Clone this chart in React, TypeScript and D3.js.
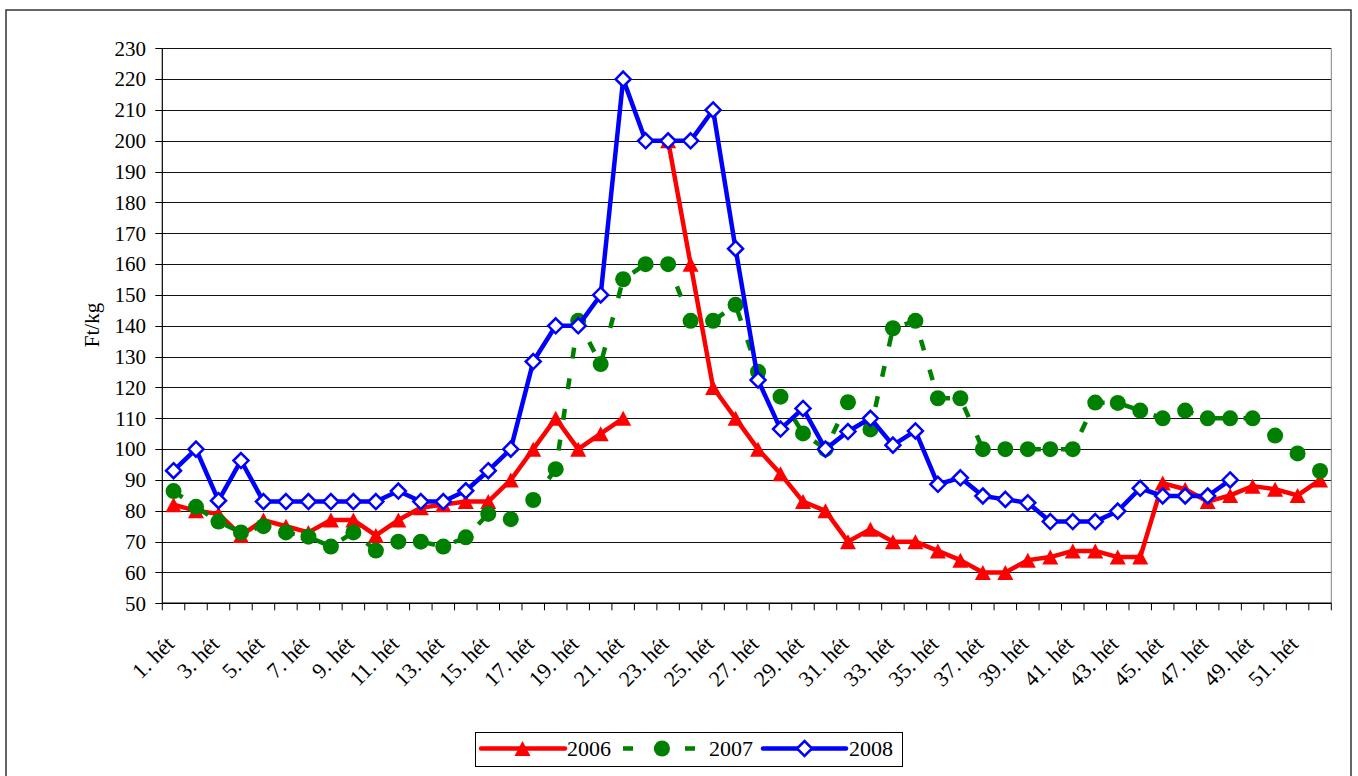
import React from "react";
import * as d3 from "d3";

const weeks: string[] = Array.from({ length: 52 }, (_, i) => `${i + 1}. hét`);
const yTicks: number[] = [50, 60, 70, 80, 90, 100, 110, 120, 130, 140, 150, 160, 170, 180, 190, 200, 210, 220, 230];

const s2006: (number | null)[] = [82, 80, 79, 72, 77, 75, 73, 77, 77, 72, 77, 81, 82, 83, 83, 90, 100, 110, 100, 105, 110, null, 200, 160, 120, 110, 100, 92, 83, 80, 70, 74, 70, 70, 67, 64, 60, 60, 64, 65, 67, 67, 65, 65, 89, 87, 83, 85, 88, 87, 85, 90];
const s2007: (number | null)[] = [86.4, 81.3, 76.5, 73, 75, 73, 71.6, 68.4, 73, 67.1, 70, 70, 68.4, 71.4, 79, 77.3, 83.5, 93.5, 141.6, 127.6, 155.1, 160, 160, 141.6, 141.6, 146.8, 125.1, 117, 105.1, 100, 115.2, 106.4, 139.2, 141.6, 116.5, 116.5, 100, 100, 100, 100, 100, 115.1, 115, 112.5, 110, 112.5, 110, 110, 110, 104.4, 98.6, 92.9];
const s2008: (number | null)[] = [93, 100, 83.3, 96.3, 83, 83, 83, 83, 83, 83, 86.4, 83, 83, 86.5, 93, 100, 128.4, 140, 140, 150, 220, 200, 200, 200, 210, 165, 122.4, 106.5, 113.2, 100, 105.7, 110, 101.3, 105.9, 88.6, 90.7, 84.8, 83.7, 82.6, 76.5, 76.5, 76.5, 79.9, 87.3, 84.8, 84.8, 84.8, 90, null, null, null, null];

const seriesNames = ["2006", "2007", "2008"];

const FONT = "'Liberation Serif', 'Times New Roman', serif";

const PL = 162.3, PR = 1331.3, PT = 48.3, PB = 603.3;

const TRI = "M0,-7.5L8,7.5L-8,7.5Z";
const DIA = "M0,-7.5L7.5,0L0,7.5L-7.5,0Z";

export default function App() {
  const x = d3.scaleBand<string>().domain(weeks).range([PL, PR]).padding(0);
  const y = d3.scaleLinear().domain([50, 230]).range([PB, PT]);
  const cx = (i: number) => (x(weeks[i]) as number) + x.bandwidth() / 2;

  const line = d3
    .line<number | null>()
    .defined((d) => d !== null)
    .x((_, i) => cx(i))
    .y((d) => y(d as number));

  const boundaries = d3.range(weeks.length + 1).map((i) => PL + i * x.bandwidth());

  return (
    <svg
      width={1358}
      height={776}
      style={{ position: "absolute", left: 0, top: 0, background: "#fff" }}
      fontFamily={FONT}
    >
      <rect x={0} y={0} width={1358} height={776} fill="#fff" />
      <rect x={6} y={10} width={1345} height={780} fill="none" stroke="#333" strokeWidth={1.5} />

      {/* gridlines */}
      {yTicks.map((t) => (
        <line key={t} x1={PL} x2={PR} y1={Math.round(y(t)) + 0.5} y2={Math.round(y(t)) + 0.5} stroke="#111" strokeWidth={1} />
      ))}
      <line x1={PR} x2={PR} y1={PT} y2={PB} stroke="#808080" strokeWidth={1} />

      {/* y axis */}
      <line x1={PL} x2={PL} y1={PT} y2={PB} stroke="#000" strokeWidth={1.2} />
      {yTicks.map((t) => (
        <g key={"yt" + t}>
          <line x1={PL - 7} x2={PL} y1={Math.round(y(t)) + 0.5} y2={Math.round(y(t)) + 0.5} stroke="#000" />
          <text x={146} y={y(t)} dy="0.35em" textAnchor="end" fontSize={21} fill="#000">
            {t}
          </text>
        </g>
      ))}
      <text transform={`translate(99,325) rotate(-90)`} textAnchor="middle" fontSize={21} fill="#000">
        Ft/kg
      </text>

      {/* x axis */}
      <line x1={PL} x2={PR} y1={PB} y2={PB} stroke="#000" strokeWidth={1.5} />
      {boundaries.map((b, i) => (
        <line key={"xt" + i} x1={b} x2={b} y1={PB} y2={PB + 7} stroke="#000" />
      ))}
      {weeks.map((w, i) =>
        i % 2 === 0 ? (
          <text
            key={w}
            transform={`translate(${cx(i) + 2},${PB + 42}) rotate(-45)`}
            textAnchor="end"
            fontSize={22}
            fill="#000"
          >
            {w}
          </text>
        ) : null
      )}

      {/* 2006 */}
      <path d={line(s2006) || ""} fill="none" stroke="#FF0000" strokeWidth={4.5} strokeLinejoin="round" />
      {s2006.map((v, i) =>
        v === null ? null : <path key={"a" + i} d={TRI} transform={`translate(${cx(i)},${y(v)})`} fill="#FF0000" />
      )}

      {/* 2007 */}
      <path d={line(s2007) || ""} fill="none" stroke="#008000" strokeWidth={4.5} strokeDasharray="11 20" />
      {s2007.map((v, i) =>
        v === null ? null : <circle key={"b" + i} cx={cx(i)} cy={y(v)} r={8} fill="#008000" />
      )}

      {/* 2008 */}
      <path d={line(s2008) || ""} fill="none" stroke="#0000FF" strokeWidth={4.5} strokeLinejoin="round" />
      {s2008.map((v, i) =>
        v === null ? null : (
          <path key={"c" + i} d={DIA} transform={`translate(${cx(i)},${y(v)})`} fill="#fff" stroke="#0000FF" strokeWidth={2.5} />
        )
      )}

      {/* legend */}
      <rect x={475.5} y={732.5} width={427} height={34} fill="#fff" stroke="#000" strokeWidth={1} />
      <line x1={481} x2={565} y1={748.5} y2={748.5} stroke="#FF0000" strokeWidth={4.5} strokeLinecap="round" />
      <path d={TRI} transform="translate(522.5,748.5)" fill="#FF0000" />
      <text x={567} y={748.5} dy="0.35em" fontSize={22}>{seriesNames[0]}</text>

      <line x1={623} x2={705} y1={748.5} y2={748.5} stroke="#008000" strokeWidth={4.5} strokeDasharray="10 21" />
      <circle cx={662} cy={748.5} r={8} fill="#008000" />
      <text x={709} y={748.5} dy="0.35em" fontSize={22}>{seriesNames[1]}</text>

      <line x1={763} x2={846} y1={748.5} y2={748.5} stroke="#0000FF" strokeWidth={4.5} strokeLinecap="round" />
      <path d={DIA} transform="translate(804.5,748.5)" fill="#fff" stroke="#0000FF" strokeWidth={2.5} />
      <text x={849} y={748.5} dy="0.35em" fontSize={22}>{seriesNames[2]}</text>
    </svg>
  );
}
